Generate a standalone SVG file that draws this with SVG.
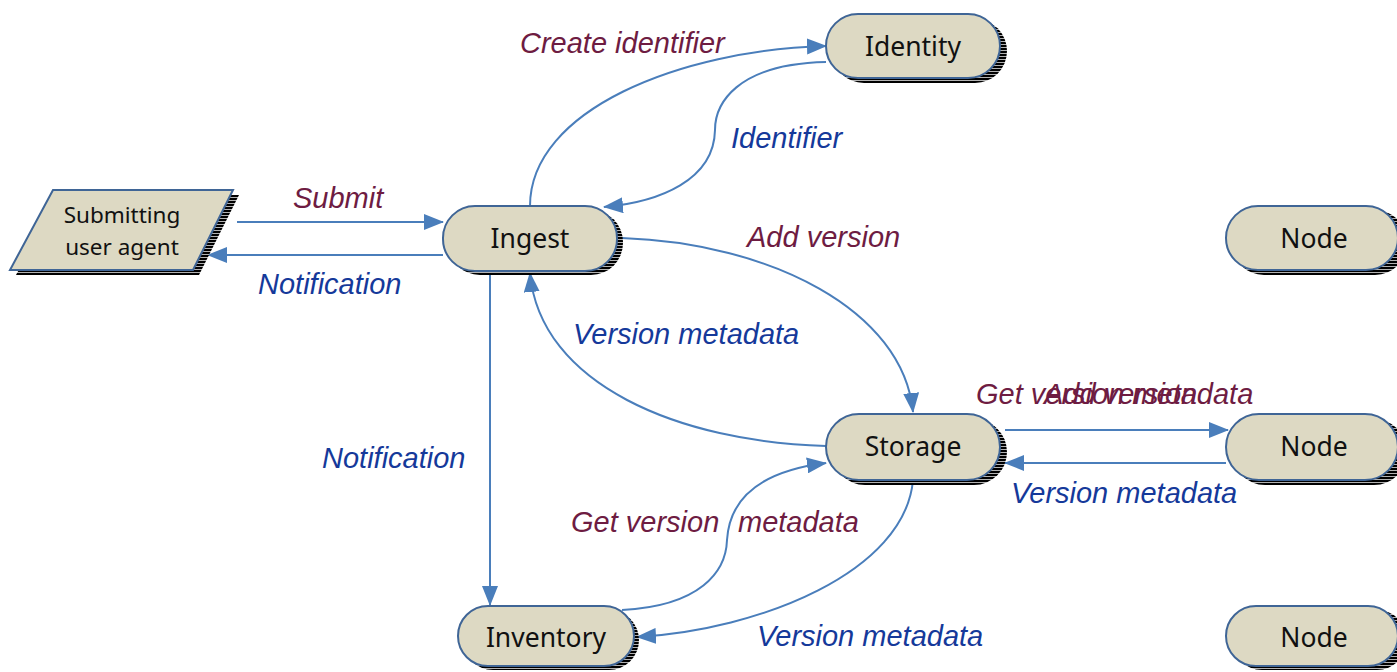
<svg xmlns="http://www.w3.org/2000/svg" width="1397" height="672" viewBox="0 0 1397 672">
<style>
.node{fill:#DDD9C3;stroke:#3F6596;stroke-width:2}
.shadow{fill:url(#stripes)}
.nt{font-family:"Noto Sans","Open Sans",sans-serif;font-size:26.5px;fill:#111;text-anchor:middle}
.ut{font-family:"Noto Sans","Open Sans",sans-serif;font-size:22.5px;fill:#111;text-anchor:middle}
.conn{fill:none;stroke:#4A7EBB;stroke-width:2;marker-end:url(#arr)}
.lr{font-family:"Liberation Sans",Arial,sans-serif;font-style:italic;font-size:29px;fill:#6E1C42}
.lb{font-family:"Liberation Sans",Arial,sans-serif;font-style:italic;font-size:29px;fill:#15399A}
</style>
<defs>
<pattern id="stripes" width="4" height="3" patternUnits="userSpaceOnUse">
<rect width="4" height="3" fill="#000"/>
<rect y="2.3" width="4" height="0.7" fill="#fff"/>
</pattern>
<marker id="arr" viewBox="0 0 20 16" refX="19" refY="8" markerWidth="20" markerHeight="16" markerUnits="userSpaceOnUse" orient="auto">
<path d="M0,0 L20,8 L0,16 z" fill="#4A7EBB"/>
</marker>
</defs>
<rect width="1397" height="672" fill="#fff"/>

<g id="connectors">
<path class="conn" d="M530,206 C530,110 680,50 826,46"/>
<path class="conn" d="M826,62 C735,64 715,105 715,130 C714,180 660,202 604,207"/>
<path class="conn" d="M237,222 L443,222"/>
<path class="conn" d="M443,255 L208,255"/>
<path class="conn" d="M622,238 C770,243 903,310 913,412"/>
<path class="conn" d="M826,446 C680,442 540,385 530,273"/>
<path class="conn" d="M490,271 L490,605"/>
<path class="conn" d="M622,610 C700,606 726,572 727,540 C730,492 770,470 826,463"/>
<path class="conn" d="M913,480 C905,572 760,630 637,637"/>
<path class="conn" d="M1005,430 L1228,430"/>
<path class="conn" d="M1226,463 L1005,463"/>
</g>

<g id="labels">
<text class="lr" x="520" y="53">Create identifier</text>
<text class="lb" x="731" y="148">Identifier</text>
<text class="lr" x="293" y="208">Submit</text>
<text class="lb" x="258" y="294">Notification</text>
<text class="lr" x="747" y="247">Add version</text>
<text class="lb" x="573" y="344">Version metadata</text>
<text class="lb" x="322" y="468">Notification</text>
<text class="lr" x="571" y="532">Get version <tspan x="738">metadata</tspan></text>
<text class="lb" x="757" y="646">Version metadata</text>
<text class="lr" x="976" y="404">Get version metadata</text>
<text class="lr" x="1044" y="404">Add version</text>
<text class="lb" x="1011" y="503">Version metadata</text>
</g>

<g id="submitting-user-agent">
<polygon class="shadow" points="59,195 239,195 199,275 16,275"/>
<polygon class="node" points="53,190 233,190 193,270 10,270"/>
<text class="ut" x="122" y="223">Submitting</text>
<text class="ut" x="122" y="255">user agent</text>
</g>

<g id="identity">
<rect class="shadow" x="832" y="19" width="175" height="64" rx="32"/>
<rect class="node" x="826" y="14" width="174" height="64" rx="32"/>
<text class="nt" x="913" y="56">Identity</text>
</g>

<g id="ingest">
<rect class="shadow" x="448" y="210" width="175" height="65" rx="32"/>
<rect class="node" x="443" y="206" width="174" height="65" rx="32"/>
<text class="nt" x="530" y="248">Ingest</text>
</g>

<g id="node-top">
<rect class="shadow" x="1232" y="210" width="175" height="65" rx="32"/>
<rect class="node" x="1226" y="206" width="172" height="64" rx="32"/>
<text class="nt" x="1314" y="248">Node</text>
</g>

<g id="storage">
<rect class="shadow" x="832" y="419" width="175" height="66" rx="33"/>
<rect class="node" x="826" y="414" width="174" height="66" rx="33"/>
<text class="nt" x="913" y="456">Storage</text>
</g>

<g id="node-mid">
<rect class="shadow" x="1232" y="419" width="175" height="66" rx="33"/>
<rect class="node" x="1226" y="414" width="172" height="66" rx="33"/>
<text class="nt" x="1314" y="456">Node</text>
</g>

<g id="inventory">
<rect class="shadow" x="463" y="610" width="176" height="60" rx="30"/>
<rect class="node" x="458" y="606" width="176" height="60" rx="30"/>
<text class="nt" x="546" y="647">Inventory</text>
</g>

<g id="node-bottom">
<rect class="shadow" x="1232" y="610" width="175" height="60" rx="30"/>
<rect class="node" x="1226" y="606" width="172" height="60" rx="30"/>
<text class="nt" x="1314" y="647">Node</text>
</g>
</svg>
